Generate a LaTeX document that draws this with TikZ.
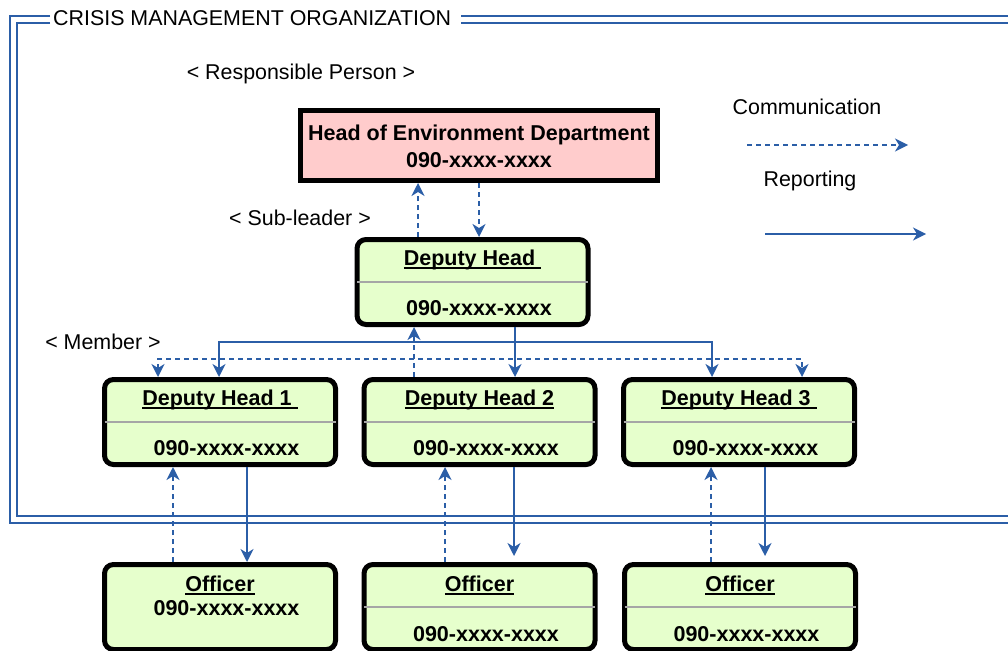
\documentclass[tikz,border=0pt]{standalone}
\usepackage{fontspec}
\setmainfont{Liberation Sans}
\usetikzlibrary{arrows.meta}
\definecolor{lnblue}{HTML}{2B5EA7}
\definecolor{headfill}{HTML}{FFCCCC}
\definecolor{boxfill}{HTML}{E6FFCC}
\newcommand\myul[1]{\setbox0\hbox{#1}\rlap{\rule[-3pt]{\wd0}{1.6pt}}\box0}
\begin{document}
\begin{tikzpicture}[x=1pt,y=-1pt,
  >={Stealth[length=13pt,width=13pt,inset=4pt]},
  txt/.style={font=\fontsize{21.4}{25}\selectfont, inner sep=0pt, text height=15.5pt, text depth=0pt},
  btxt/.style={font=\fontsize{21.5}{25}\selectfont\bfseries, inner sep=0pt, text height=15.5pt, text depth=0pt},
  headbox/.style={draw=black, line width=5pt, fill=headfill, minimum width=357pt, minimum height=70pt, inner sep=0pt},
  orgbox/.style={draw=black, line width=5pt, fill=boxfill, rounded corners=9pt, minimum width=231pt, minimum height=85pt, inner sep=0pt},
  sepline/.style={draw=black!35, line width=2.5pt},
  comm/.style={draw=lnblue, line width=1.7pt, dash pattern=on 5pt off 4pt, ->},
  report/.style={draw=lnblue, line width=1.7pt, ->},
  frameline/.style={draw=lnblue, line width=2pt}
]
\useasboundingbox (0,0) rectangle (1008,650);

% frame and title
\node[txt, anchor=base west] (title) at (53,26) {CRISIS MANAGEMENT ORGANIZATION};
\draw[frameline] (50,16) -- (10,16) -- (10,523) -- (1012,523);
\draw[frameline] (50,23) -- (17,23) -- (17,516) -- (1012,516);
\draw[frameline] (461,16) -- (1012,16);
\draw[frameline] (461,23) -- (1012,23);

% labels
\node[txt] (lresp) at (301,72) {< Responsible Person >};
\node[txt] (lsub) at (300,218) {< Sub-leader >};
\node[txt] (lmem) at (103,342) {< Member >};
\node[txt] (lcomm) at (807,107) {Communication};
\node[txt] (lrep) at (810,179) {Reporting};

% legend arrows
\coordinate (c1) at (747,145);
\coordinate (c2) at (908,145);
\coordinate (r1) at (765,234);
\coordinate (r2) at (926,234);
\draw[comm] (c1) -- (c2);
\draw[report] (r1) -- (r2);

% head
\node[headbox] (head) at (479,145.5) {};
\node[btxt] (headt) at ([yshift=12.5pt]head.center) {Head of Environment Department};
\node[btxt] (headn) at ([yshift=-14.5pt]head.center) {090-xxxx-xxxx};

% deputy head
\node[orgbox] (dh) at (472.5,282) {};
\draw[sepline] ([xshift=2.5pt]dh.west) -- ([xshift=-2.5pt]dh.east);
\node[btxt] (dht) at ([yshift=24pt]dh.center) {\myul{Deputy Head\ }};
\node[btxt] (dhn) at ([xshift=6.5pt,yshift=-26pt]dh.center) {090-xxxx-xxxx};

% members
\node[orgbox] (dh1) at (220,422) {};
\node[orgbox] (dh2) at (479.5,422) {};
\node[orgbox] (dh3) at (739,422) {};
\foreach \n in {dh1,dh2,dh3}{
  \draw[sepline] ([xshift=2.5pt]\n.west) -- ([xshift=-2.5pt]\n.east);
  \node[btxt] (\n n) at ([xshift=6.5pt,yshift=-26pt]\n.center) {090-xxxx-xxxx};
}
\node[btxt] (dh1t) at ([yshift=24pt]dh1.center) {\myul{Deputy Head 1\ }};
\node[btxt] (dh2t) at ([yshift=24pt]dh2.center) {\myul{Deputy Head 2}};
\node[btxt] (dh3t) at ([yshift=24pt]dh3.center) {\myul{Deputy Head 3\ }};

% officers
\node[orgbox] (off1) at (220,607) {};
\node[orgbox] (off2) at (479.5,607) {};
\node[orgbox] (off3) at (740,607) {};
\node[btxt] (off1t) at ([yshift=23pt]off1.center) {\myul{Officer}};
\node[btxt] (off1n) at ([xshift=6.5pt,yshift=-1pt]off1.center) {090-xxxx-xxxx};
\foreach \n in {off2,off3}{
  \draw[sepline] ([xshift=2.5pt]\n.west) -- ([xshift=-2.5pt]\n.east);
  \node[btxt] (\n t) at ([yshift=23pt]\n.center) {\myul{Officer}};
  \node[btxt] (\n n) at ([xshift=6.5pt,yshift=-27pt]\n.center) {090-xxxx-xxxx};
}

% head <-> deputy head
\draw[comm] ([xshift=-54.5pt]dh.north) -- ([xshift=-54.5pt]dh.north |- head.south);
\draw[comm] (head.south) -- (head.south |- dh.north);

% reporting tree
\coordinate (rs) at ([xshift=42.5pt]dh.south);
\coordinate (hb) at (0,342);
\coordinate (hd) at (0,359);
\draw[report] (rs) -- (rs |- dh2.north);
\draw[report,<->] ([xshift=-1pt]dh1.north) -- ([xshift=-1pt]dh1.north |- hb) -- ([xshift=-27pt]dh3.north |- hb) -- ([xshift=-27pt]dh3.north);

% communication tree
\draw[comm,<->] ([xshift=-62pt]dh1.north) -- ([xshift=-62pt]dh1.north |- hd) -- ([xshift=63pt]dh3.north |- hd) -- ([xshift=63pt]dh3.north);
\draw[comm] ([xshift=-65.5pt]dh2.north) -- ([xshift=-65.5pt]dh2.north |- dh.south);

% officers <-> members
\draw[comm] ([xshift=-47pt]off1.north) -- ([xshift=-47pt]off1.north |- dh1.south);
\draw[report] ([xshift=27pt]dh1.south) -- ([xshift=27pt]dh1.south |- off1.north);
\draw[comm] ([xshift=-34.5pt]off2.north) -- ([xshift=-34.5pt]off2.north |- dh2.south);
\draw[report, shorten >=6pt] ([xshift=34.5pt]dh2.south) -- ([xshift=34.5pt]dh2.south |- off2.north);
\draw[comm] ([xshift=-29pt]off3.north) -- ([xshift=-29pt]off3.north |- dh3.south);
\draw[report, shorten >=6pt] ([xshift=26pt]dh3.south) -- ([xshift=26pt]dh3.south |- off3.north);
\end{tikzpicture}
\end{document}
